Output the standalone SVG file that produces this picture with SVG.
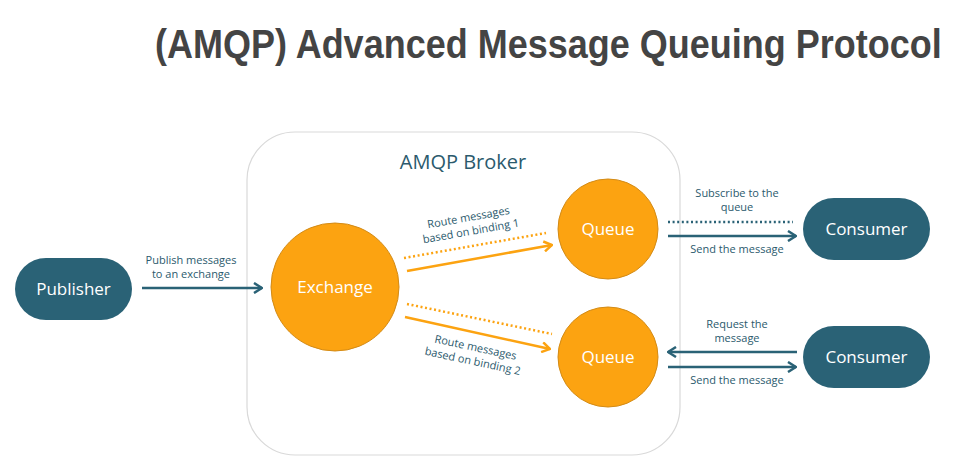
<svg xmlns="http://www.w3.org/2000/svg" width="976" height="466" viewBox="0 0 976 466">
<style>
.title{font-family:"Liberation Sans",Arial,sans-serif;font-weight:bold;font-size:36px;fill:#444444}
.nt{font-family:"Open Sans","Noto Sans",sans-serif;font-size:17px;fill:#ffffff;text-anchor:middle}
.lb{font-family:"Open Sans","Noto Sans",sans-serif;font-size:11px;fill:#2b5a6d;text-anchor:middle}
.teal{fill:#2a6276}
.orange{fill:#fca311;stroke:#d38b17;stroke-width:1}
.ta{stroke:#2a6276;stroke-width:2.5;fill:none}
.td{stroke:#2a6276;stroke-width:2.5;fill:none;stroke-dasharray:2 2.6}
.oa{stroke:#fca311;stroke-width:2.5;fill:none}
.od{stroke:#fca311;stroke-width:2.5;fill:none;stroke-dasharray:2 2.6}
</style>
<defs>
<marker id="mt" viewBox="0 0 10 12" refX="9" refY="6" markerWidth="10" markerHeight="12" markerUnits="userSpaceOnUse" orient="auto">
<path d="M1,1 L9,6 L1,11" fill="none" stroke="#2a6276" stroke-width="2.5"/>
</marker>
<marker id="mo" viewBox="0 0 10 12" refX="9" refY="6" markerWidth="10" markerHeight="12" markerUnits="userSpaceOnUse" orient="auto">
<path d="M1,1 L9,6 L1,11" fill="none" stroke="#fca311" stroke-width="2.5"/>
</marker>
</defs>
<rect width="976" height="466" fill="#ffffff"/>
<text class="title" transform="translate(155 58) scale(1 1.12)" x="0" y="0">(AMQP) Advanced Message Queuing Protocol</text>

<g id="broker">
<rect x="247" y="132" width="433" height="323" rx="48" ry="48" fill="#ffffff" stroke="#d9d9d9" stroke-width="1.2"/>
<text x="463" y="169" font-family="'Open Sans','Noto Sans',sans-serif" font-size="20" fill="#2b5a6d" text-anchor="middle">AMQP Broker</text>
</g>

<g id="connectors">
<line class="ta" x1="142" y1="288" x2="262" y2="288" marker-end="url(#mt)"/>
<text class="lb" x="191" y="264">Publish messages</text>
<text class="lb" x="191" y="278">to an exchange</text>

<line class="od" x1="404" y1="258" x2="546" y2="233"/>
<line class="oa" x1="407" y1="271" x2="552" y2="245" marker-end="url(#mo)"/>
<g transform="rotate(-10 470 226)">
<text class="lb" x="470" y="221">Route messages</text>
<text class="lb" x="470" y="235">based on binding 1</text>
</g>

<line class="od" x1="407" y1="304" x2="552" y2="334"/>
<line class="oa" x1="405" y1="317" x2="550" y2="349" marker-end="url(#mo)"/>
<g transform="rotate(12 474 355)">
<text class="lb" x="474" y="351">Route messages</text>
<text class="lb" x="474" y="365">based on binding 2</text>
</g>

<line class="td" x1="668" y1="222" x2="793" y2="222"/>
<line class="ta" x1="668" y1="236" x2="796" y2="236" marker-end="url(#mt)"/>
<text class="lb" x="737" y="197">Subscribe to the</text>
<text class="lb" x="737" y="211">queue</text>
<text class="lb" x="737" y="253">Send the message</text>

<line class="ta" x1="797" y1="352" x2="668" y2="352" marker-end="url(#mt)"/>
<line class="ta" x1="668" y1="367" x2="796" y2="367" marker-end="url(#mt)"/>
<text class="lb" x="737" y="328">Request the</text>
<text class="lb" x="737" y="342">message</text>
<text class="lb" x="737" y="384">Send the message</text>
</g>

<g id="publisher">
<rect class="teal" x="15" y="258" width="117" height="62" rx="31" ry="31"/>
<text class="nt" x="73.5" y="295">Publisher</text>
</g>
<g id="exchange">
<circle class="orange" cx="335" cy="287" r="64"/>
<text class="nt" x="335" y="293">Exchange</text>
</g>
<g id="queue1">
<circle class="orange" cx="608" cy="229" r="50"/>
<text class="nt" x="608" y="235">Queue</text>
</g>
<g id="queue2">
<circle class="orange" cx="608" cy="357" r="50"/>
<text class="nt" x="608" y="363">Queue</text>
</g>
<g id="consumer1">
<rect class="teal" x="803" y="198" width="127" height="62" rx="31" ry="31"/>
<text class="nt" x="866.5" y="235">Consumer</text>
</g>
<g id="consumer2">
<rect class="teal" x="803" y="326" width="127" height="62" rx="31" ry="31"/>
<text class="nt" x="866.5" y="363">Consumer</text>
</g>
</svg>
